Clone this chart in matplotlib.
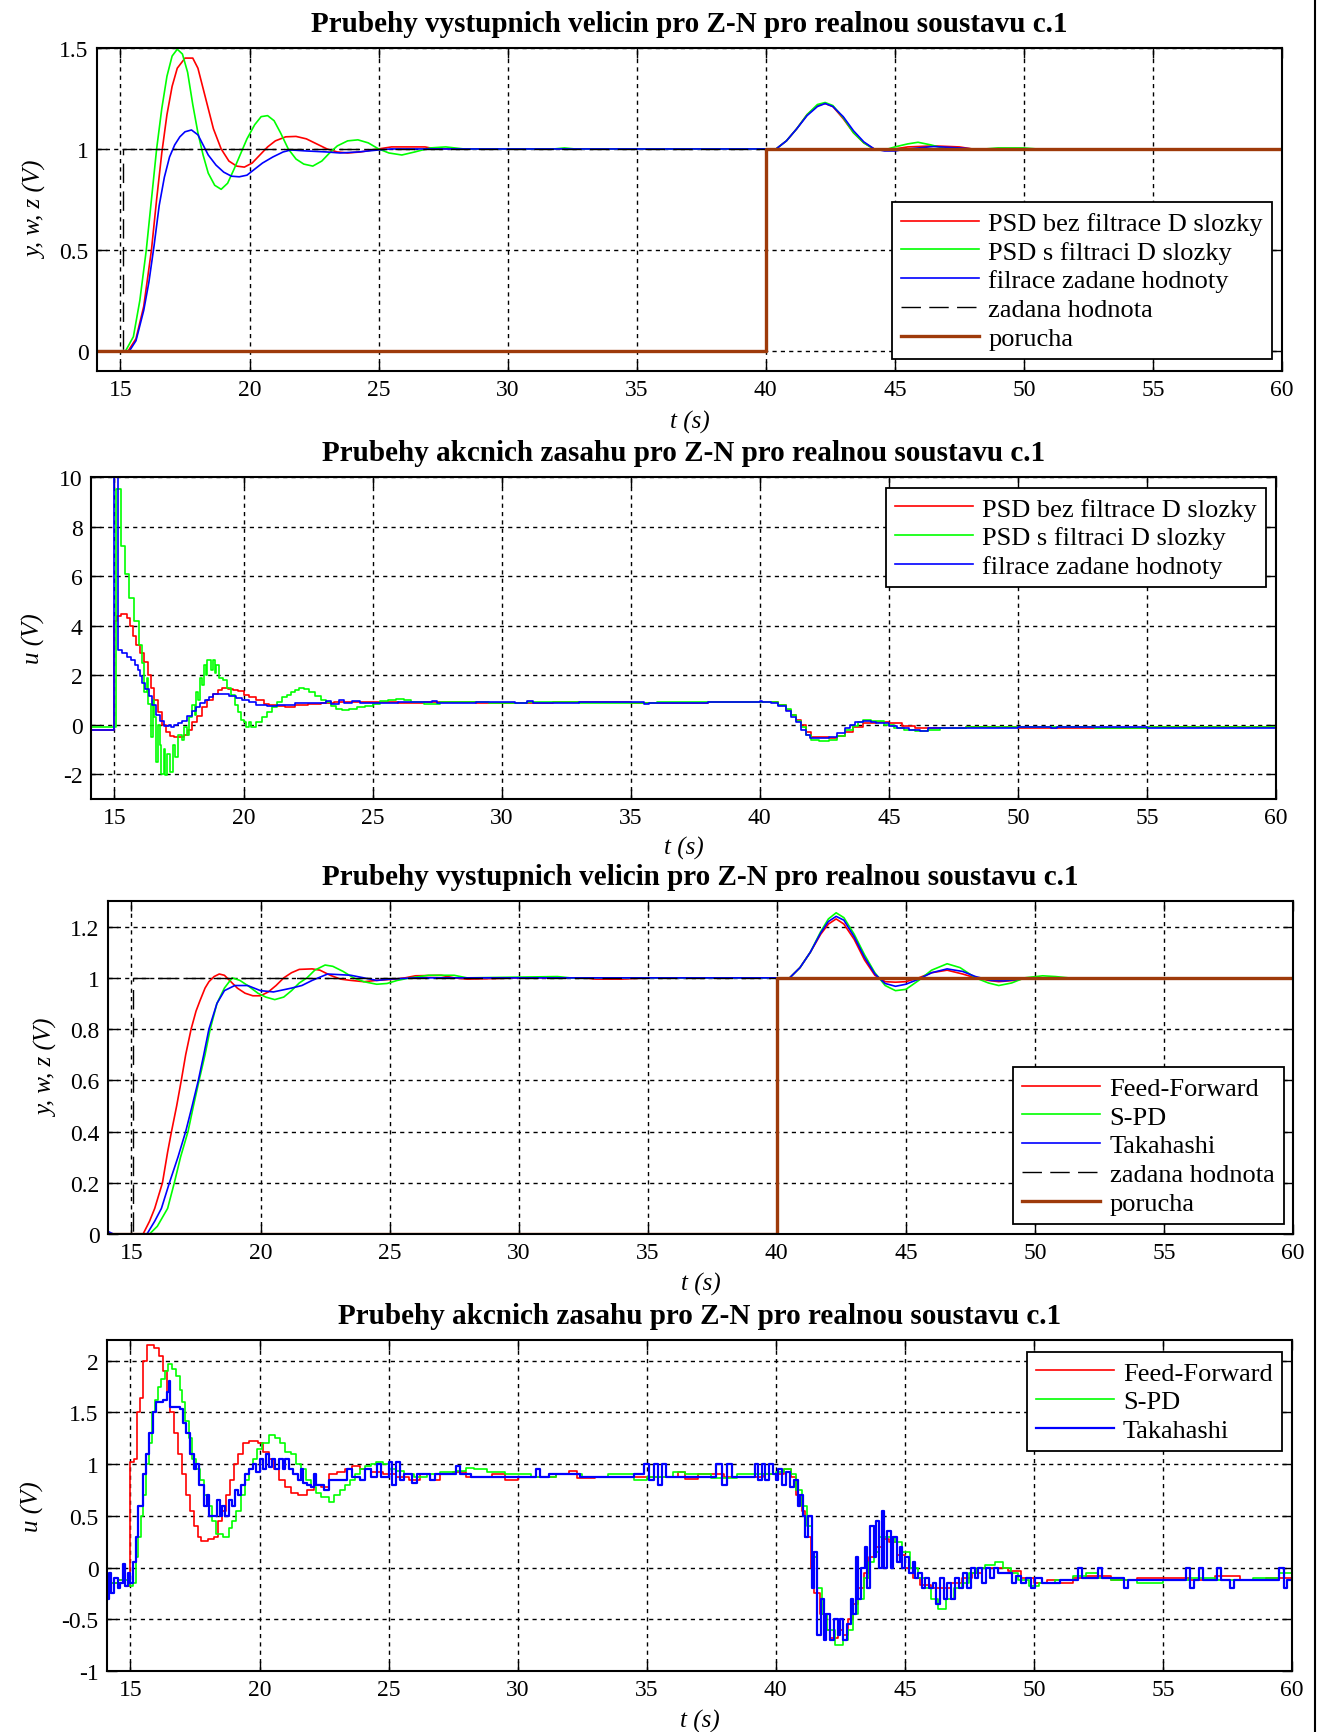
import numpy as np
import matplotlib
matplotlib.use("Agg")
import matplotlib.pyplot as plt
from matplotlib.lines import Line2D
from matplotlib.ticker import FuncFormatter

plt.rcParams['font.family'] = ['Liberation Serif', 'DejaVu Serif']
plt.rcParams['axes.unicode_minus'] = False

# ---------------- panel 1: vystupni veliciny, Z-N ----------------
t_w1 = [14.09, 15.1, 15.1, 60]
w1 = [0, 0, 1, 1]
t_z1 = [14.09, 40, 40, 60]
z1 = [0, 0, 1, 1]

t_psd1 = [14.09, 15.3, 15.6, 15.9, 16.2, 16.4, 16.6, 16.8, 17.0, 17.2, 17.5, 17.8, 18.0, 18.3,
          18.6, 18.9, 19.2, 19.5, 19.8, 20.1, 20.4, 20.7, 21.0, 21.4, 21.8, 22.2, 22.6, 23.0,
          23.4, 23.8, 24.3, 25.0, 25.5, 26.8, 27.2, 38.0, 40.4, 40.8, 41.2, 41.6, 42.0, 42.3,
          42.6, 43.0, 43.4, 43.8, 44.2, 44.6, 45.0, 45.5, 46.5, 47.5, 48.0, 60]
y_psd1 = [0, 0, 0.06, 0.22, 0.5, 0.75, 0.98, 1.17, 1.31, 1.4, 1.45, 1.45, 1.4, 1.25,
          1.1, 1.0, 0.94, 0.915, 0.91, 0.93, 0.97, 1.01, 1.04, 1.06, 1.062, 1.05, 1.025, 1.0,
          0.985, 0.98, 0.985, 1.0, 1.01, 1.01, 1.0, 1.0, 1.0, 1.04, 1.1, 1.17, 1.215, 1.225,
          1.21, 1.15, 1.08, 1.03, 1.0, 0.995, 1.0, 1.01, 1.015, 1.01, 1.0, 1.0]

t_psdf1 = [14.09, 15.2, 15.5, 15.75, 16.0, 16.2, 16.4, 16.6, 16.8, 17.0, 17.2, 17.4, 17.6, 17.8,
           18.0, 18.2, 18.4, 18.65, 18.9, 19.15, 19.4, 19.7, 19.9, 20.2, 20.45, 20.7, 20.95,
           21.2, 21.5, 21.8, 22.1, 22.45, 22.8, 23.1, 23.4, 23.8, 24.2, 24.6, 25.0, 25.4, 25.9,
           26.4, 27.0, 27.6, 28.3, 31.8, 32.2, 32.6, 40.4, 40.8, 41.2, 41.6, 42.0, 42.3, 42.6,
           43.0, 43.4, 43.8, 44.2, 44.6, 45.0, 45.5, 45.9, 46.4, 47.0, 47.6, 48.5, 49.0, 50.0,
           50.5, 60]
y_psdf1 = [0, 0, 0.07, 0.25, 0.5, 0.75, 1.0, 1.2, 1.36, 1.46, 1.494, 1.47, 1.38, 1.22,
           1.08, 0.97, 0.88, 0.82, 0.8, 0.83, 0.9, 0.99, 1.05, 1.12, 1.16, 1.165, 1.14,
           1.08, 1.0, 0.95, 0.925, 0.915, 0.94, 0.98, 1.015, 1.04, 1.045, 1.03, 1.0, 0.98, 0.97,
           0.985, 1.005, 1.01, 1.0, 1.0, 1.005, 1.0, 1.0, 1.04, 1.1, 1.17, 1.22, 1.23, 1.215,
           1.155, 1.08, 1.03, 0.998, 0.995, 1.01, 1.025, 1.033, 1.02, 1.0, 0.995, 1.0, 1.005, 1.005,
           1.0, 1.0]

t_filw1 = [14.09, 15.35, 15.6, 15.9, 16.1, 16.3, 16.5, 16.7, 16.9, 17.1, 17.3, 17.5, 17.75, 18.0,
           18.2, 18.4, 18.7, 19.0, 19.3, 19.6, 19.9, 20.2, 20.5, 20.9, 21.3, 21.6, 22.2, 23.0,
           23.5, 24.2, 25.0, 25.5, 40.4, 40.8, 41.2, 41.6, 42.0, 42.3, 42.6, 43.0, 43.4, 43.8,
           44.2, 44.6, 45.0, 45.5, 46.5, 47.5, 48.0, 60]
y_filw1 = [0, 0, 0.05, 0.2, 0.34, 0.52, 0.72, 0.86, 0.96, 1.02, 1.06, 1.085, 1.094, 1.07,
           1.02, 0.97, 0.92, 0.885, 0.865, 0.862, 0.87, 0.9, 0.93, 0.96, 0.985, 0.995, 0.99, 0.985,
           0.98, 0.985, 0.995, 1.0, 1.0, 1.04, 1.1, 1.165, 1.21, 1.225, 1.21, 1.16, 1.09, 1.035,
           1.0, 0.99, 0.99, 1.0, 1.012, 1.005, 1.0, 1.0]

# ---------------- panel 2: akcni zasahy, Z-N ----------------
t_u_psd = [14.09, 15.0, 15.1, 15.25, 15.5, 15.6, 15.72, 15.85, 16.0, 16.16, 16.3, 16.4, 16.55,
           16.7, 16.85, 17.0, 17.15, 17.3, 17.5, 17.7, 17.85, 18.0, 18.2, 18.4, 18.6, 18.8,
           19.0, 19.17, 19.4, 19.6, 19.8, 20.0, 20.2, 20.5, 20.8, 21.0, 21.3, 21.6, 22.0, 22.5,
           23.0, 23.5, 24.0, 25, 26, 27, 29, 32, 35, 38, 40.45, 40.7, 41.0, 41.2, 41.4, 41.6,
           41.8, 42.0, 42.7, 43.0, 43.3, 43.6, 44.0, 44.5, 45.0, 45.5, 46.0, 47, 48, 50, 55, 60]
u_psd = [-0.2, 4.2, 4.4, 4.46, 4.3, 4.0, 3.58, 3.2, 2.9, 2.54, 2.0, 1.5, 1.0,
         0.5, 0.0, -0.3, -0.45, -0.5, -0.5, -0.4, -0.2, 0.1, 0.35, 0.7, 1.0, 1.25,
         1.4, 1.49, 1.45, 1.4, 1.35, 1.2, 1.1, 1.0, 0.85, 0.8, 0.75, 0.72, 0.8, 0.85,
         0.88, 0.9, 0.92, 0.9, 0.88, 0.92, 0.88, 0.9, 0.88, 0.92, 0.9, 0.8, 0.6, 0.4, 0.2, 0.0,
         -0.3, -0.5, -0.55, -0.45, -0.3, -0.1, 0.05, 0.1, 0.05, -0.05, -0.12, -0.15, -0.1, -0.12,
         -0.1, -0.12]

t_u_psdf = [14.09, 15.05, 15.25, 15.4, 15.55, 15.75, 15.95, 16.05, 16.15, 16.25, 16.3, 16.4, 16.5,
            16.55, 16.6, 16.7, 16.75, 16.8, 16.9, 16.95, 17.05, 17.15, 17.25, 17.35, 17.45, 17.6,
            17.7, 17.8, 17.9, 18.0, 18.1, 18.15, 18.25, 18.3, 18.4, 18.45, 18.55, 18.6, 18.75,
            18.8, 18.9, 18.95, 19.05, 19.2, 19.35, 19.5, 19.65, 19.8, 19.9, 20.0, 20.1, 20.2,
            20.3, 20.5, 20.7, 20.9, 21.1, 21.3, 21.5, 21.7, 21.85, 22.0, 22.15, 22.35, 22.55,
            22.75, 23.0, 23.2, 23.4, 23.6, 23.8, 24.1, 24.4, 24.7, 25.0, 25.3, 25.6, 25.9, 26.2,
            26.5, 27.0, 27.6, 28.5, 29.5, 31, 33, 36, 40.5, 40.7, 41.0, 41.2, 41.4, 41.6, 41.8,
            42.0, 42.3, 42.7, 43.0, 43.3, 43.6, 43.8, 44.0, 44.3, 44.8, 45.2, 45.6, 46.0, 46.5,
            47, 48, 50, 53, 55, 58, 60]
u_psdf = [-0.1, 9.5, 7.2, 6.1, 5.1, 4.2, 3.2, 2.5, 1.3, 1.9, 0.85, -0.5, 1.0,
          0.3, -1.5, 0.0, -0.8, -2.0, -1.0, -2.05, -1.2, -1.9, -0.8, -1.3, -0.4, -0.6,
          -0.1, -0.4, 0.3, 0.8, 0.4, 1.3, 1.0, 1.9, 1.6, 2.4, 2.0, 2.6, 2.2,
          2.6, 2.1, 2.4, 1.9, 1.8, 1.5, 1.2, 0.8, 0.5, 0.2, 0.1, -0.1, 0.1,
          -0.1, 0.1, 0.3, 0.5, 0.7, 0.9, 1.1, 1.2, 1.3, 1.4, 1.5, 1.45, 1.3,
          1.15, 1.0, 0.9, 0.75, 0.65, 0.6, 0.65, 0.7, 0.75, 0.85, 0.95, 1.0, 1.05, 1.0,
          0.9, 0.85, 0.9, 0.92, 0.88, 0.92, 0.88, 0.9, 0.9, 0.8, 0.65, 0.4, 0.15, -0.1, -0.4,
          -0.6, -0.65, -0.6, -0.45, -0.2, -0.05, 0.1, 0.2, 0.15, 0.0, -0.15, -0.22, -0.25, -0.2,
          -0.12, -0.08, -0.1, -0.12, -0.08, -0.1, -0.1]

t_u_filw = [14.09, 15.0, 15.12, 15.3, 15.5, 15.64, 15.78, 15.9, 16.0, 16.07, 16.2, 16.33, 16.45,
            16.6, 16.75, 16.93, 17.1, 17.2, 17.3, 17.45, 17.6, 17.8, 18.0, 18.15, 18.3, 18.5,
            18.65, 18.83, 19.2, 19.45, 19.7, 19.95, 20.2, 20.5, 20.9, 21.3, 21.6, 22.0, 22.6,
            23.2, 23.4, 23.7, 23.9, 24.2, 24.5, 26, 27.3, 27.5, 29, 30.5, 31, 31.2, 33, 35.5,
            35.7, 38, 40.0, 40.1, 40.45, 40.7, 41.0, 41.2, 41.4, 41.6, 41.8, 41.95, 42.7, 43.0,
            43.3, 43.5, 43.7, 44.0, 44.3, 44.5, 45.0, 45.3, 45.8, 46.2, 46.5, 47.3, 48, 50, 51.3,
            51.5, 55, 60]
u_filw = [-0.2, 10.5, 3.0, 2.9, 2.75, 2.6, 2.4, 2.2, 1.95, 1.7, 1.45, 1.15, 0.8,
          0.4, 0.15, -0.07, 0.0, -0.1, 0.0, 0.05, 0.15, 0.34, 0.55, 0.7, 0.88, 1.0,
          1.1, 1.22, 1.24, 1.15, 1.08, 0.98, 0.9, 0.8, 0.74, 0.78, 0.81, 0.86, 0.88,
          0.95, 0.85, 1.0, 0.88, 0.95, 0.88, 0.9, 0.95, 0.88, 0.9, 0.88, 0.95, 0.88, 0.9, 0.85,
          0.88, 0.9, 0.95, 0.9, 0.88, 0.75, 0.55, 0.3, 0.1, -0.2, -0.4, -0.55, -0.5, -0.35,
          -0.15, 0.0, 0.1, 0.16, 0.12, 0.05, -0.05, -0.13, -0.2, -0.25, -0.15, -0.12, -0.12, -0.1, -0.15,
          -0.1, -0.12, -0.13]

# ---------------- panel 3: vystupni veliciny, FF / S-PD / Takahashi ----------------
t_w3 = [14.09, 15.05, 15.05, 60]
w3 = [0, 0, 1, 1]
t_z3 = [14.09, 40, 40, 60]
z3 = [0, 0, 1, 1]

t_ff = [14.09, 15.45, 15.7, 15.9, 16.2, 16.4, 16.55, 16.75, 16.93, 17.1, 17.31, 17.5, 17.65,
        17.85, 18.0, 18.2, 18.4, 18.6, 18.8, 19.1, 19.4, 19.7, 20.0, 20.3, 20.6, 20.9, 21.2,
        21.5, 22.0, 22.3, 22.7, 23.1, 23.5, 24.0, 24.5, 25.2, 25.6, 26.0, 27.0, 27.5, 28, 29,
        30, 32.5, 33, 34, 35, 40.5, 40.9, 41.3, 41.7, 42.0, 42.3, 42.6, 43.0, 43.4, 43.8, 44.2,
        44.6, 45.0, 45.5, 46.0, 46.6, 47.2, 47.7, 48.2, 48.6, 49.2, 49.8, 51, 52, 53, 54, 60]
y_ff = [0, 0, 0.05, 0.1, 0.2, 0.32, 0.4, 0.5, 0.6, 0.7, 0.8, 0.87, 0.91,
        0.96, 0.985, 1.005, 1.015, 1.01, 0.99, 0.96, 0.94, 0.93, 0.93, 0.945, 0.97, 1.0, 1.02,
        1.033, 1.035, 1.03, 1.01, 0.995, 0.99, 0.985, 0.99, 0.995, 1.0, 1.008, 1.01, 1.0, 0.995, 0.997,
        1.0, 1.0, 0.995, 0.995, 1.0, 1.0, 1.04, 1.1, 1.17, 1.21, 1.23, 1.21, 1.15, 1.07, 1.01, 0.985,
        0.983, 0.985, 1.0, 1.02, 1.03, 1.015, 1.0, 0.99, 0.985, 0.99, 1.0, 1.0, 0.995, 0.998, 1.0, 1.0]

t_spd = [14.09, 15.7, 16.0, 16.4, 16.66, 16.9, 17.19, 17.4, 17.62, 17.85, 18.05, 18.31, 18.6,
         18.9, 19.2, 19.5, 19.9, 20.2, 20.55, 20.9, 21.2, 21.5, 21.8, 22.1, 22.5, 22.8, 23.2,
         23.6, 24.0, 24.5, 24.9, 25.3, 25.8, 26.5, 27.5, 28, 31.5, 32, 40.5, 40.9, 41.3, 41.7,
         42.0, 42.3, 42.6, 43.0, 43.4, 43.8, 44.2, 44.6, 45.0, 45.5, 46.0, 46.6, 47.1, 47.7,
         48.2, 48.6, 49.1, 49.6, 50.3, 50.8, 51.5, 52.5, 53, 60]
y_spd = [0, 0, 0.03, 0.1, 0.2, 0.3, 0.4, 0.5, 0.6, 0.7, 0.8, 0.9, 0.96,
         1.0, 0.99, 0.97, 0.94, 0.925, 0.915, 0.925, 0.95, 0.98, 1.0, 1.03, 1.05, 1.045, 1.025,
         1.0, 0.985, 0.975, 0.978, 0.99, 1.0, 1.01, 1.01, 1.0, 1.005, 1.0, 1.0, 1.04, 1.1, 1.18,
         1.23, 1.254, 1.235, 1.17, 1.09, 1.02, 0.97, 0.95, 0.955, 0.99, 1.03, 1.055, 1.04, 1.0,
         0.98, 0.97, 0.98, 1.0, 1.008, 1.005, 0.998, 0.995, 1.0, 1.0]

t_tak = [14.09, 14.3, 15.6, 15.9, 16.16, 16.47, 16.8, 17.1, 17.35, 17.59, 17.8, 18.0, 18.31,
         18.6, 19.0, 19.5, 20.0, 20.5, 21.2, 21.6, 22.0, 22.6, 23.5, 24.0, 24.5, 25.0, 26,
         40.5, 40.9, 41.3, 41.7, 42.0, 42.3, 42.6, 43.0, 43.4, 43.8, 44.2, 44.6, 45.0, 45.5,
         46.0, 46.6, 47.2, 47.7, 48.3, 48.8, 49.4, 50, 60]
y_tak = [0.01, 0.0, 0, 0.05, 0.1, 0.2, 0.3, 0.4, 0.5, 0.6, 0.7, 0.8, 0.9,
         0.95, 0.97, 0.97, 0.95, 0.945, 0.96, 0.97, 0.99, 1.015, 1.01, 1.0, 0.99, 0.995, 1.0,
         1.0, 1.04, 1.1, 1.175, 1.22, 1.24, 1.225, 1.16, 1.08, 1.015, 0.978, 0.967, 0.975, 0.995,
         1.02, 1.035, 1.025, 1.005, 0.99, 0.988, 0.995, 1.0, 1.0]

# ---------------- panel 4: akcni zasahy, FF / S-PD / Takahashi ----------------
t_u_ff = [14.09, 14.5, 14.8, 15.0, 15.15, 15.25, 15.38, 15.5, 15.65, 15.9, 16.1, 16.25, 16.4,
          16.55, 16.7, 16.85, 17.0, 17.15, 17.3, 17.45, 17.6, 17.75, 18.0, 18.25, 18.4, 18.55,
          18.7, 18.85, 19.0, 19.15, 19.35, 19.6, 19.95, 20.15, 20.35, 20.55, 20.75, 21.0, 21.2,
          21.5, 21.85, 22.1, 22.4, 22.7, 23.0, 23.3, 23.6, 23.9, 24.3, 24.8, 25.3, 25.8, 26.2,
          26.6, 27.0, 27.5, 28.0, 29, 29.5, 30, 31.5, 32, 32.3, 33, 35, 36.2, 36.5, 37, 38,
          39.5, 40.3, 40.6, 40.8, 41.0, 41.15, 41.35, 41.5, 41.7, 41.9, 42.1, 42.4, 42.6, 42.8,
          43.0, 43.2, 43.4, 43.6, 43.8, 44.1, 44.4, 44.7, 45.0, 45.3, 45.6, 46.0, 46.4, 46.8,
          47.2, 47.6, 48.0, 48.5, 49.0, 49.5, 50, 50.5, 51, 51.5, 52, 53, 54, 55, 56, 57, 58,
          59, 60]
u_ff = [-0.15, -0.12, -0.18, 1.02, 1.05, 1.5, 1.64, 2.0, 2.15, 2.12, 2.05, 1.9, 1.7,
        1.5, 1.3, 1.1, 0.9, 0.7, 0.55, 0.4, 0.3, 0.26, 0.28, 0.3, 0.45, 0.55,
        0.7, 0.85, 1.0, 1.1, 1.2, 1.22, 1.2, 1.12, 1.05, 0.95, 0.85, 0.78, 0.72,
        0.7, 0.75, 0.8, 0.78, 0.9, 0.92, 0.95, 0.98, 0.95, 0.92, 0.9, 0.88, 0.85, 0.9,
        0.85, 0.9, 0.92, 0.88, 0.9, 0.85, 0.88, 0.9, 0.93, 0.87, 0.88, 0.88, 0.92, 0.86, 0.9, 0.88,
        0.9, 0.95, 0.88, 0.7, 0.55, 0.3, 0.0, -0.25, -0.45, -0.6, -0.68, -0.6, -0.65, -0.5,
        -0.35, -0.2, -0.05, 0.1, 0.2, 0.28, 0.25, 0.12, 0.0, -0.1, -0.17, -0.2, -0.2, -0.15,
        -0.1, -0.05, 0.0, 0.0, -0.03, -0.1, -0.15, -0.12, -0.15, -0.1, -0.08, -0.12, -0.1, -0.1,
        -0.12, -0.08, -0.12, -0.1, -0.1]

t_u_spd = [14.09, 14.5, 15.0, 15.1, 15.2, 15.3, 15.41, 15.5, 15.62, 15.72, 15.83, 15.95, 16.05,
           16.2, 16.34, 16.45, 16.6, 16.75, 16.9, 17.0, 17.13, 17.26, 17.4, 17.55, 17.69, 17.85,
           18.03, 18.15, 18.3, 18.6, 18.8, 18.95, 19.1, 19.3, 19.45, 19.6, 19.75, 19.9, 20.1,
           20.36, 20.6, 20.8, 21.0, 21.2, 21.4, 21.6, 21.8, 22.0, 22.2, 22.4, 22.69, 22.9, 23.1,
           23.3, 23.5, 23.7, 23.9, 24.1, 24.3, 24.5, 24.8, 25.0, 25.3, 25.6, 26.0, 26.5, 27.0,
           27.6, 28.0, 28.3, 28.8, 29.5, 30.5, 31.5, 32.5, 33.5, 34.5, 35, 36, 36.5, 37.5, 38.5,
           40.0, 40.3, 40.6, 40.8, 41.0, 41.2, 41.4, 41.6, 41.8, 42.0, 42.3, 42.6, 42.8, 43.0,
           43.2, 43.4, 43.6, 43.8, 44.0, 44.3, 44.6, 44.9, 45.2, 45.5, 45.8, 46.0, 46.3, 46.6,
           46.9, 47.2, 47.5, 47.8, 48.1, 48.5, 48.8, 49.1, 49.4, 49.8, 50.2, 50.8, 51.5, 52,
           52.5, 53, 54, 55, 56, 57, 58.5, 59.5, 60]
u_spd = [-0.15, -0.12, -0.18, -0.15, 0.1, 0.3, 0.5, 0.7, 1.0, 1.2, 1.5, 1.62, 1.75,
         1.82, 1.9, 1.97, 1.92, 1.85, 1.72, 1.6, 1.42, 1.25, 1.05, 0.95, 0.85, 0.7,
         0.6, 0.45, 0.32, 0.3, 0.38, 0.45, 0.55, 0.7, 0.85, 0.95, 1.05, 1.15, 1.2,
         1.28, 1.25, 1.2, 1.12, 1.1, 1.0, 0.95, 0.85, 0.78, 0.72, 0.68, 0.63, 0.7, 0.75,
         0.8, 0.85, 0.9, 0.95, 0.98, 1.0, 1.02, 1.0, 0.95, 0.93, 0.9, 0.88, 0.9, 0.92,
         0.93, 0.96, 0.95, 0.92, 0.9, 0.88, 0.9, 0.88, 0.9, 0.85, 0.88, 0.92, 0.9, 0.87, 0.9,
         0.92, 0.95, 0.9, 0.75, 0.6, 0.4, 0.1, -0.2, -0.45, -0.6, -0.75, -0.7, -0.6, -0.45,
         -0.3, -0.1, 0.05, 0.15, 0.3, 0.3, 0.25, 0.15, 0.0, -0.1, -0.2, -0.3, -0.4, -0.3,
         -0.2, -0.15, -0.05, 0.0, 0.02, 0.05, 0.0, -0.05, -0.12, -0.18, -0.15, -0.12, -0.08, -0.05,
         -0.1, -0.12, -0.15, -0.12, -0.1, -0.12, -0.1, -0.05, -0.1]

t_u_tak = [14.09, 14.15, 14.25, 14.35, 14.5, 14.6, 14.7, 14.8, 14.9, 15.0, 15.1, 15.2, 15.28,
           15.41, 15.5, 15.6, 15.7, 15.88, 16.0, 16.25, 16.4, 16.48, 16.55, 16.9, 17.05, 17.17,
           17.3, 17.45, 17.55, 17.65, 17.86, 17.95, 18.05, 18.35, 18.45, 18.55, 18.65, 18.8,
           18.95, 19.05, 19.15, 19.3, 19.45, 19.6, 19.75, 19.85, 20.0, 20.15, 20.25, 20.35,
           20.5, 20.6, 20.75, 20.9, 21.0, 21.15, 21.3, 21.5, 21.6, 21.7, 21.85, 22.0, 22.1,
           22.2, 22.5, 22.7, 23.3, 23.4, 23.6, 23.9, 24.1, 24.3, 24.55, 24.7, 25.0, 25.15,
           25.3, 25.45, 25.6, 25.9, 26.1, 26.6, 26.8, 27.6, 27.75, 28.2, 29.5, 30.7, 30.85,
           31.2, 32.4, 34.0, 34.5, 34.9, 35.1, 35.3, 35.45, 35.6, 35.75, 37.5, 37.7, 37.9,
           38.1, 38.3, 39.2, 39.3, 39.45, 39.6, 39.75, 39.9, 40.0, 40.1, 40.25, 40.4, 40.55,
           40.7, 40.85, 40.95, 41.05, 41.15, 41.25, 41.4, 41.5, 41.6, 41.75, 41.85, 41.95,
           42.1, 42.25, 42.4, 42.5, 42.6, 42.75, 42.9, 43.0, 43.1, 43.2, 43.3, 43.45, 43.55,
           43.65, 43.8, 43.9, 44.0, 44.1, 44.2, 44.3, 44.45, 44.55, 44.7, 44.8, 44.9, 45.0,
           45.15, 45.3, 45.4, 45.5, 45.65, 45.8, 45.95, 46.1, 46.2, 46.35, 46.5, 46.65, 46.8,
           46.95, 47.1, 47.25, 47.4, 47.55, 47.7, 47.85, 48.0, 48.15, 48.3, 48.45, 48.6, 49.0,
           49.15, 49.3, 49.5, 49.7, 49.9, 50.05, 50.3, 51.0, 51.6, 51.7, 51.85, 52.4, 52.5,
           52.65, 53.4, 53.5, 53.65, 55.8, 55.9, 56.05, 56.2, 56.4, 56.55, 57.0, 57.1, 57.25,
           57.5, 57.6, 57.75, 59.4, 59.5, 59.7, 59.8, 60]
u_tak = [-0.3, -0.05, -0.25, -0.1, -0.2, -0.15, 0.03, -0.18, -0.05, -0.15, 0.05, 0.3, 0.6,
         0.6, 0.9, 1.1, 1.3, 1.5, 1.6, 1.62, 1.7, 1.8, 1.55, 1.53, 1.4, 1.3,
         1.1, 0.95, 1.0, 0.8, 0.6, 0.7, 0.5, 0.65, 0.5, 0.6, 0.5, 0.65,
         0.6, 0.75, 0.7, 0.8, 0.9, 0.95, 1.0, 0.92, 1.05, 0.95, 1.1, 0.97,
         1.05, 0.95, 1.05, 0.95, 1.05, 0.95, 0.9, 0.85, 0.95, 0.82, 0.8, 0.78, 0.9,
         0.8, 0.75, 0.85, 0.85, 0.95, 0.88, 0.85, 0.95, 0.88, 1.0, 0.88, 1.02, 0.8,
         1.02, 0.85, 0.9, 0.82, 0.9, 0.85, 0.9, 0.98, 0.9, 0.88, 0.88, 0.95, 0.88,
         0.9, 0.88, 0.88, 0.9, 1.0, 0.85, 1.0, 0.8, 1.0, 0.88, 0.88, 1.0, 0.8,
         1.0, 0.88, 1.0, 0.85, 1.0, 0.85, 1.0, 0.9, 0.85, 0.95, 0.8, 0.92, 0.78,
         0.85, 0.6, 0.7, 0.5, 0.3, 0.5, -0.2, 0.15, -0.65, -0.3, -0.7, -0.45,
         -0.7, -0.5, -0.65, -0.5, -0.7, -0.55, -0.3, -0.45, 0.1, -0.3, 0.0, 0.2, -0.2,
         0.4, 0.1, 0.45, 0.0, 0.55, 0.0, 0.35, 0.0, 0.3, 0.05, 0.2, 0.0, 0.1,
         -0.05, 0.05, -0.1, -0.05, -0.2, -0.1, -0.2, -0.15, -0.35, -0.1, -0.3, -0.15, -0.3,
         -0.1, -0.2, -0.05, -0.2, 0.0, -0.1, 0.0, -0.15, 0.0, -0.1, 0.0, -0.05, -0.05,
         -0.15, -0.08, -0.15, -0.1, -0.2, -0.1, -0.15, -0.12, -0.12, 0.0, -0.1, -0.1, 0.0,
         -0.1, -0.1, -0.2, -0.12, -0.12, 0.0, -0.2, -0.12, 0.0, -0.12, -0.12, 0.0, -0.12,
         -0.12, -0.2, -0.12, -0.12, 0.0, -0.2, -0.12, -0.12]

title_y = "Prubehy vystupnich velicin pro Z-N pro realnou soustavu c.1"
title_u = "Prubehy akcnich zasahu pro Z-N pro realnou soustavu c.1"
labels_zn = ["PSD bez filtrace D slozky", "PSD s filtraci D slozky", "filrace zadane hodnoty"]
labels_2dof = ["Feed-Forward", "S-PD", "Takahashi"]
label_w = "zadana hodnota"
label_z = "porucha"

RED, GREEN, BLUE, BROWN = "#FF0000", "#00FF00", "#0000FF", "#9E3A0A"
W, H = 1322, 1733
FS = 17

fig = plt.figure(figsize=(W / 100, H / 100), dpi=100)


def px_axes(left, right, top, bottom):
    return fig.add_axes([left / W, 1 - bottom / H, (right - left) / W, (bottom - top) / H])


def style(ax, ylim, yticks, ylabel, title, xlab_y):
    ax.set_xlim(14.09, 60)
    ax.set_ylim(*ylim)
    ax.set_xticks(np.arange(15, 61, 5))
    ax.set_yticks(yticks)
    ax.yaxis.set_major_formatter(FuncFormatter(lambda v, p: "%g" % v))
    ax.grid(True, color="k", linestyle=(0, (3, 3)), linewidth=1.0)
    ax.set_axisbelow(True)
    ax.tick_params(direction="in", top=True, right=True, length=7, width=1, labelsize=FS, pad=6)
    for s in ax.spines.values():
        s.set_linewidth(1.5)
    ax.set_title(title, fontsize=21, fontweight="bold", pad=12)
    ax.set_xlabel("t (s)", fontsize=18, style="italic")
    ax.xaxis.set_label_coords(0.5, xlab_y)
    ax.set_ylabel(ylabel, fontsize=18, style="italic")


def legend(ax, loc, anchor):
    leg = ax.legend(loc=loc, bbox_to_anchor=anchor, prop={"size": 19}, fancybox=False,
                    framealpha=1, edgecolor="k", handlelength=2.95, handletextpad=0.35,
                    labelspacing=0.2, borderaxespad=0, borderpad=0.35)
    leg.get_frame().set_linewidth(1.3)


# panel 1
ax1 = px_axes(97, 1282, 49, 372)
ax1.plot(t_psd1, y_psd1, color=RED, lw=1.2, label=labels_zn[0])
ax1.plot(t_psdf1, y_psdf1, color=GREEN, lw=1.2, label=labels_zn[1])
ax1.plot(t_filw1, y_filw1, color=BLUE, lw=1.2, label=labels_zn[2])
ax1.plot(t_w1, w1, color="k", lw=1.0, linestyle=(0, (14, 6)), label=label_w)
ax1.plot(t_z1, z1, color=BROWN, lw=2.4, label=label_z)
style(ax1, (-0.1, 1.5), [0, 0.5, 1, 1.5], "y, w, z (V)", title_y, -0.12)
ax1.yaxis.set_label_coords(-0.041, 0.5)
legend(ax1, "lower right", (0.9916, 0.037))

# panel 2
ax2 = px_axes(91, 1276, 478, 800)
ax2.step(t_u_psd, u_psd, where="post", color=RED, lw=1.2, label=labels_zn[0])
ax2.step(t_u_psdf, u_psdf, where="post", color=GREEN, lw=1.2, label=labels_zn[1])
ax2.step(t_u_filw, u_filw, where="post", color=BLUE, lw=1.2, label=labels_zn[2])
style(ax2, (-3, 10), np.arange(-2, 11, 2), "u (V)", title_u, -0.115)
ax2.yaxis.set_label_coords(-0.039, 0.5)
legend(ax2, "upper right", (0.9916, 0.966))

# panel 3
ax3 = px_axes(108, 1293, 902, 1235)
ax3.plot(t_ff, y_ff, color=RED, lw=1.2, label=labels_2dof[0])
ax3.plot(t_spd, y_spd, color=GREEN, lw=1.2, label=labels_2dof[1])
ax3.plot(t_tak, y_tak, color=BLUE, lw=1.2, label=labels_2dof[2])
ax3.plot(t_w3, w3, color="k", lw=1.0, linestyle=(0, (14, 6)), label=label_w)
ax3.plot(t_z3, z3, color=BROWN, lw=2.4, label=label_z)
style(ax3, (0, 1.3), [0, 0.2, 0.4, 0.6, 0.8, 1, 1.2], "y, w, z (V)", title_y, -0.115)
ax3.yaxis.set_label_coords(-0.041, 0.5)
legend(ax3, "lower right", (0.992, 0.03))

# panel 4
ax4 = px_axes(107, 1292, 1341, 1672)
ax4.step(t_u_ff, u_ff, where="post", color=RED, lw=1.2, label=labels_2dof[0])
ax4.step(t_u_spd, u_spd, where="post", color=GREEN, lw=1.2, label=labels_2dof[1])
ax4.step(t_u_tak, u_tak, where="post", color=BLUE, lw=1.6, label=labels_2dof[2])
style(ax4, (-1, 2.2), [-1, -0.5, 0, 0.5, 1, 1.5, 2], "u (V)", title_u, -0.115)
ax4.yaxis.set_label_coords(-0.053, 0.5)
legend(ax4, "upper right", (0.9916, 0.964))

fig.add_artist(Line2D([1315 / W, 1315 / W], [0, 1], color="k", lw=1.5, transform=fig.transFigure))

fig.savefig("out.png", dpi=100)
